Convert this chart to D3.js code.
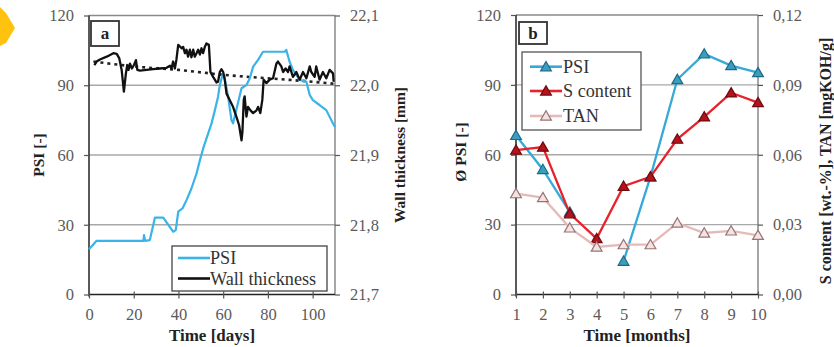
<!DOCTYPE html>
<html><head><meta charset="utf-8">
<script src="https://cdn.jsdelivr.net/npm/d3@7"></script>
<style>body{margin:0;background:#fff}svg{display:block}</style>
</head><body>
<svg id="c" width="834" height="347"></svg>
<script>
// ---------- Panel a data ----------
const psiDays = [0,3.4,24.3,24.6,25.1,27.2,29.5,33.2,37.6,38.8,39.9,41.8,43.6,45.8,48.1,49.6,51.3,53.3,54.8,56.3,57.7,58.5,59.7,60.4,62.2,63.7,64.4,66.2,68.2,70.4,71.9,73.4,75.6,77.8,87.5,88.2,89.7,91.2,94.2,97.2,98.7,100.1,103.1,106.1,109.1,110];
const psiVals = [19.5,23.1,23.1,25.5,23.1,23.4,33.1,33.1,27,27.7,35.6,37,40.6,45.6,52.1,57.8,63.6,69.3,73.6,79.3,85.1,90.1,94.4,94.4,85.1,75,73.6,80.8,88.7,90.1,93,98,100.9,104.4,104.4,105.2,100.1,96.6,92.3,91.5,85.8,83.6,81.5,79.3,73.6,72];
const wallDays = [2.4,3.4,4.9,7.9,10.9,12.4,13.5,14.6,15.6,16.5,17.1,17.7,18.3,19.2,20.1,21.0,21.6,22.8,25.7,28.7,31.7,34.7,36.2,36.9,37.6,38.4,39.1,39.9,41.4,42.1,42.9,43.6,44.3,45.1,45.8,46.6,47.3,48.1,48.8,49.6,50.3,51,51.8,52.5,53.6,54.3,55.5,57,57.7,58.5,59.2,60,60.7,61.5,62.9,64.4,65.9,67.1,68.2,68.6,69.2,69.6,70.4,71.1,72.2,73.4,74.9,75.6,76.6,77.5,78.1,79.3,80.8,82.3,83.8,84.5,86,86.8,87.9,89,89.7,91.2,92.7,94.2,95.7,97.2,98.7,99.4,100.9,101.6,103.1,104.6,106.1,107.6,109.1,109.4];
const wallMm = [22.029,22.034,22.037,22.041,22.046,22.045,22.039,22.022,21.991,22.017,22.029,22.022,22.031,22.024,22.029,22.036,22.022,22.021,22.022,22.023,22.024,22.025,22.028,22.024,22.034,22.024,22.037,22.058,22.053,22.055,22.046,22.051,22.041,22.051,22.040,22.051,22.041,22.046,22.051,22.044,22.053,22.046,22.055,22.060,22.058,22.019,22.012,22.004,22.005,22.019,22.023,22.019,22.008,21.988,21.979,21.969,21.955,21.943,21.921,21.933,21.979,21.984,21.955,21.969,21.964,21.960,21.964,21.969,21.960,21.979,22.008,22.003,22.008,22.010,22.031,22.034,22.027,22.019,22.024,22.019,22.027,22.012,22.019,22.008,22.019,22.010,22.027,22.019,22.012,22.027,22.008,22.019,22.010,22.022,22.017,22.005];
const trendDays = [2,20,40,60,80,100,110];
const trendMm = [22.034,22.027,22.022,22.015,22.010,22.005,22.002];
const aXTicks = [0,20,40,60,80,100];
const psiTicks = [0,30,60,90,120];
const mmTicks = [21.7,21.8,21.9,22.0,22.1];

// ---------- Panel b data ----------
const months = [1,2,3,4,5,6,7,8,9,10];
const psiMonthly = [68.3,53.7,35.4,null,14.3,50.5,92.3,103.3,98.3,95.3];
const sContent = [0.062,0.0633,0.0347,0.024,0.0465,0.0505,0.0667,0.0763,0.0866,0.0824];
const tan = [0.0433,0.0416,0.0286,0.0204,0.0214,0.0214,0.0307,0.0264,0.0273,0.0254];
const bRightTicks = [0,0.03,0.06,0.09,0.12];

const svg = d3.select("#c");
svg.append("rect").attr("width",834).attr("height",347).attr("fill","#fff");
const FONT = "'Liberation Serif','Times New Roman',serif";

// yellow marker
svg.append("polygon").attr("points","0,7 6,13 15,28 6,43 0,46").attr("fill","#ffc20e");

function fmtComma(dec){ return v => d3.format("."+dec+"f")(v).replace(".",","); }

function frame(opt){
  const g = svg.append("g");
  const {x,yL,yR,x0,x1,y0,y1} = opt;
  opt.gridVals.forEach(v=>{
    g.append("line").attr("x1",x0).attr("x2",x1).attr("y1",yL(v)).attr("y2",yL(v))
      .attr("stroke", v===120 ? "#8a8a8a" : "#a8a8a8").attr("stroke-width",1.3);
  });
  g.append("line").attr("x1",x1).attr("x2",x1).attr("y1",y1).attr("y2",y0).attr("stroke","#777").attr("stroke-width",1.3);
  g.append("line").attr("x1",x0).attr("x2",x0).attr("y1",y1).attr("y2",y0+2).attr("stroke","#222").attr("stroke-width",1.5);
  g.append("line").attr("x1",x0).attr("x2",x1).attr("y1",y0).attr("y2",y0).attr("stroke","#222").attr("stroke-width",1.5);
  return g;
}

function axes(g, opt){
  const {x,yL,yR,x0,x1,y0} = opt;
  const la = d3.axisLeft(yL).tickValues(psiTicks).tickSize(5).tickPadding(opt.lPad).tickFormat(d3.format("d"));
  const ga = g.append("g").attr("transform",`translate(${x0},0)`).call(la);
  const ra = d3.axisRight(yR).tickValues(opt.rTicks).tickSize(5).tickPadding(10).tickFormat(opt.rFmt);
  const gr = g.append("g").attr("transform",`translate(${x1},0)`).call(ra);
  const ba = d3.axisBottom(x).tickValues(opt.xTicks).tickSize(4).tickPadding(10).tickFormat(d3.format("d"));
  const gb = g.append("g").attr("transform",`translate(0,${y0})`).call(ba);
  [ga,gr,gb].forEach(s=>{
    s.select(".domain").remove();
    s.selectAll(".tick line").attr("stroke","#555").attr("stroke-width",1.2);
    s.selectAll("text").attr("font-family",FONT).attr("font-size",16.5).attr("fill","#5a5a5a");
  });
  gb.selectAll(".tick line").attr("y1",-3);
}

function titleRot(x,y,t,fs){
  svg.append("text").attr("transform",`translate(${x},${y}) rotate(-90)`).attr("text-anchor","middle")
    .attr("dominant-baseline","central").attr("font-family",FONT).attr("font-weight","bold").attr("font-size",fs||15.5).attr("fill","#222").text(t);
}
function titleX(x,y,t){
  svg.append("text").attr("x",x).attr("y",y).attr("text-anchor","middle")
    .attr("font-family",FONT).attr("font-weight","bold").attr("font-size",17).attr("fill","#222").text(t);
}
function labelBox(x,y,w,h,t){
  svg.append("rect").attr("x",x).attr("y",y).attr("width",w).attr("height",h).attr("fill","#fff").attr("stroke","#333").attr("stroke-width",1.8);
  svg.append("text").attr("x",x+w/2).attr("y",y+h/2+5.5).attr("text-anchor","middle").attr("font-family",FONT)
    .attr("font-weight","bold").attr("font-size",17).attr("fill","#222").text(t);
}

// ---------- Panel a ----------
{
  const x0=89,x1=335,y0=294.5,y1=15.5;
  const x = d3.scaleLinear().domain([0,110]).range([x0,x1]);
  const yL = d3.scaleLinear().domain([0,120]).range([y0,y1]);
  const yR = d3.scaleLinear().domain([21.7,22.1]).range([y0,y1]);
  const opt = {x,yL,yR,x0,x1,y0,y1,gridVals:[30,60,90,120],lPad:10,rTicks:mmTicks,rFmt:fmtComma(1),xTicks:aXTicks};
  const g = frame(opt);
  axes(g,opt);
  const psiData = psiDays.map((d,i)=>[d,psiVals[i]]);
  const wallData = wallDays.map((d,i)=>[d,wallMm[i]]);
  const trendData = trendDays.map((d,i)=>[d,trendMm[i]]);
  g.append("path").datum(trendData).attr("fill","none").attr("stroke","#222").attr("stroke-width",2.6)
    .attr("stroke-dasharray","3,4").attr("d",d3.line().curve(d3.curveMonotoneX).x(d=>x(d[0])).y(d=>yR(d[1])));
  g.append("path").datum(psiData).attr("fill","none").attr("stroke","#3ab4e8").attr("stroke-width",2.2)
    .attr("stroke-linejoin","round").attr("d",d3.line().x(d=>x(d[0])).y(d=>yL(d[1])));
  g.append("path").datum(wallData).attr("fill","none").attr("stroke","#111").attr("stroke-width",2.3)
    .attr("stroke-linejoin","round").attr("d",d3.line().x(d=>x(d[0])).y(d=>yR(d[1])));
  const lg = svg.append("g");
  lg.append("rect").attr("x",172).attr("y",246).attr("width",155).attr("height",45).attr("fill","#fff").attr("stroke","#444").attr("stroke-width",1.3);
  [["PSI","#3ab4e8",258],["Wall thickness","#111",278.5]].forEach(([t,c,yy])=>{
    lg.append("line").attr("x1",178).attr("x2",210).attr("y1",yy).attr("y2",yy).attr("stroke",c).attr("stroke-width",2.6);
    lg.append("text").attr("x",210).attr("y",yy+6).attr("font-family",FONT).attr("font-size",18.2).attr("fill","#333").text(t);
  });
  labelBox(91,21,28,25,"a");
  titleRot(38,155,"PSI [-]");
  titleRot(399,155,"Wall thickness [mm]");
  titleX(212,341,"Time [days]");
}

// ---------- Panel b ----------
{
  const x0=516,x1=758,y0=294.5,y1=15;
  const x = d3.scaleLinear().domain([1,10]).range([x0,x1]);
  const yL = d3.scaleLinear().domain([0,120]).range([y0,y1]);
  const yR = d3.scaleLinear().domain([0,0.12]).range([y0,y1]);
  const opt = {x,yL,yR,x0,x1,y0,y1,gridVals:[30,60,90,120],lPad:10,rTicks:bRightTicks,rFmt:fmtComma(2),xTicks:months};
  const g = frame(opt);
  axes(g,opt);
  const tri = d3.symbol().type(d3.symbolTriangle).size(50);
  const series = [
    {vals:psiMonthly, y:yL, line:"#35a9d8", fill:"#3a9fbf", stroke:"#1d6a85"},
    {vals:sContent, y:yR, line:"#e8222c", fill:"#b4121c", stroke:"#6e0a10"},
    {vals:tan, y:yR, line:"#e6b9b9", fill:"#f2e4e4", stroke:"#9a7272"}
  ];
  series.forEach(s=>{
    const data = months.map((m,i)=>[m,s.vals[i]]);
    g.append("path").datum(data).attr("fill","none").attr("stroke",s.line).attr("stroke-width",2.3)
      .attr("d",d3.line().defined(d=>d[1]!=null).x(d=>x(d[0])).y(d=>s.y(d[1])));
    g.selectAll(null).data(data.filter(d=>d[1]!=null)).enter().append("path")
      .attr("d",tri).attr("transform",d=>`translate(${x(d[0])},${s.y(d[1])+1})`)
      .attr("fill",s.fill).attr("stroke",s.stroke).attr("stroke-width",1.2);
  });
  const lg = svg.append("g");
  lg.append("rect").attr("x",522).attr("y",52).attr("width",119).attr("height",78).attr("fill","#fff").attr("stroke","#555").attr("stroke-width",1.3);
  [["PSI",66.7,series[0]],["S content",91,series[1]],["TAN",116,series[2]]].forEach(([t,yy,s])=>{
    lg.append("line").attr("x1",530).attr("x2",562).attr("y1",yy).attr("y2",yy).attr("stroke",s.line).attr("stroke-width",2.6);
    lg.append("path").attr("d",tri).attr("transform",`translate(546,${yy+1})`).attr("fill",s.fill).attr("stroke",s.stroke).attr("stroke-width",1.2);
    lg.append("text").attr("x",563).attr("y",yy+6).attr("font-family",FONT).attr("font-size",18.2).attr("fill","#333").text(t);
  });
  labelBox(519,22,28,22,"b");
  titleRot(460,152,"Ø PSI [-]");
  titleRot(825,161,"S content [wt.-%], TAN [mgKOH/g]", 16);
  titleX(637,341,"Time [months]");
}
</script>
</body></html>
